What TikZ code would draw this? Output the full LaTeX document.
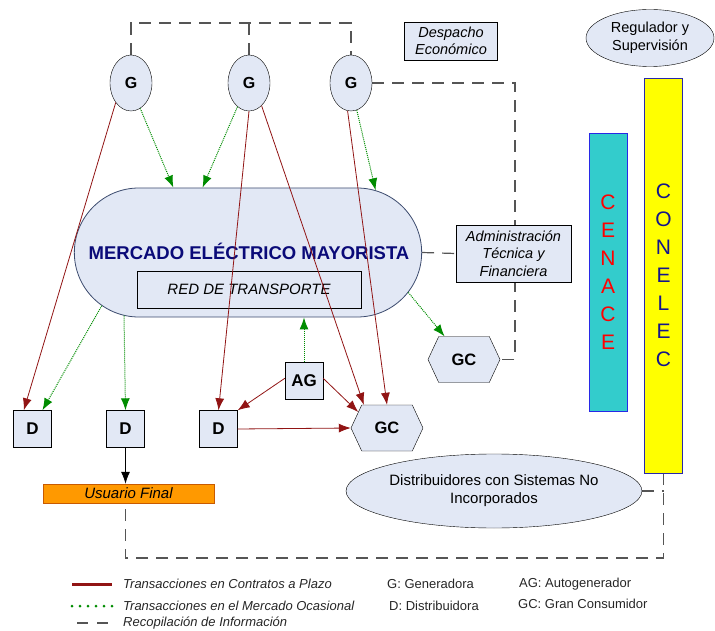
\documentclass[tikz,border=0pt]{standalone}
\usepackage{fontspec}
\setmainfont{Liberation Sans}
\usepackage{tikz}
\usetikzlibrary{shapes,arrows.meta,backgrounds}
\definecolor{nodefill}{RGB}{226,232,245}
\definecolor{pillline}{RGB}{60,75,110}
\definecolor{mercadoblue}{RGB}{10,10,120}
\definecolor{contratored}{RGB}{145,20,20}
\definecolor{ocasionalgreen}{RGB}{0,140,0}
\definecolor{recopgray}{RGB}{85,85,85}
\definecolor{cenacefill}{RGB}{51,204,204}
\definecolor{cenaceline}{RGB}{40,40,230}
\definecolor{conelecfill}{RGB}{255,255,0}
\definecolor{conelecline}{RGB}{40,40,170}
\definecolor{conelectext}{RGB}{20,20,140}
\definecolor{userfill}{RGB}{255,153,0}
\definecolor{userline}{RGB}{200,90,0}
\tikzset{
	gen/.style       = {draw, ellipse, fill = nodefill, minimum width = 42pt,
		minimum height = 56pt, inner sep = 0pt, font = \fontsize{16}{19}\selectfont\bfseries},
	distr/.style     = {draw, rectangle, fill = nodefill, minimum width = 38pt,
		minimum height = 37pt, inner sep = 0pt, font = \fontsize{17}{20}\selectfont\bfseries},
	cons/.style      = {draw, signal, signal to = east and west, signal pointer angle = 130,
		fill = nodefill, minimum width = 72pt, minimum height = 46pt, inner sep = 0pt,
		font = \fontsize{16.5}{19}\selectfont\bfseries},
	info/.style      = {draw, rectangle, fill = nodefill, align = center, inner sep = 0pt,
		font = \fontsize{14.5}{17.5}\selectfont\itshape},
	cloud/.style     = {draw, ellipse, fill = nodefill, align = center, inner sep = 0pt,
		font = \fontsize{14.5}{17.5}\selectfont},
	pill/.style      = {draw = pillline, thick, rounded rectangle, fill = nodefill,
		minimum width = 354pt, minimum height = 129pt},
	bar/.style       = {draw, thick, rectangle, align = center, inner sep = 0pt,
		minimum width = 38pt, font = \fontsize{21}{28}\selectfont},
	legend/.style    = {anchor = west, inner sep = 0pt, text = black!85,
		font = \fontsize{13}{15}\selectfont},
	contrato/.style  = {->, draw = contratored, line width = 0.8pt},
	ocasional/.style = {->, draw = ocasionalgreen, densely dotted, line width = 1pt},
	recop/.style     = {draw = recopgray, dash pattern = on 12pt off 8pt, line width = 1.2pt}
}

\begin{document}
\begin{tikzpicture}[x=1pt, y=-1pt, >={Latex[length=12pt,width=9pt]}]
	\useasboundingbox (0,0) rectangle (715,631);
	
	\draw
	node at (131,83) [gen] (g1) {G}
	node at (249,83) [gen] (g2) {G}
	node at (351,83) [gen] (g3) {G}
	node at (451,41) [info, minimum width = 93pt, minimum height = 38pt] (desp) {Despacho\\Económico}
	node at (650,38) [cloud, minimum width = 128pt, minimum height = 57pt] (reg) {Regulador y\\Supervisión}
	node at (248,252.5) [pill] (mem) {}
	node at (249,251) [font = \fontsize{18.5}{21}\selectfont\bfseries, text = mercadoblue] (mtxt) {MERCADO ELÉCTRICO MAYORISTA}
	node at (249,289.5) [info, minimum width = 224pt, minimum height = 37pt, font = \fontsize{15}{18}\selectfont\itshape] (red) {RED DE TRANSPORTE}
	node at (513.5,253.5) [info, minimum width = 115pt, minimum height = 57pt] (admin) {Administración\\Técnica y\\Financiera}
	node at (608,272) [bar, fill = cenacefill, draw = cenaceline, minimum height = 278pt, text = red] (cenace) {C\\E\\N\\A\\C\\E}
	node at (663.5,275.5) [bar, fill = conelecfill, draw = conelecline, minimum height = 395pt, text = conelectext] (conelec) {C\\O\\N\\E\\L\\E\\C}
	node at (464,359.5) [cons] (gc1) {GC}
	node at (304,381) [distr] (ag) {AG}
	node at (32.5,429) [distr] (d1) {D}
	node at (125.5,429) [distr] (d2) {D}
	node at (218.5,429) [distr] (d3) {D}
	node at (387,428) [cons] (gc2) {GC}
	node at (128.5,493.5) [rectangle, draw = userline, fill = userfill, minimum width = 171pt, minimum height = 19pt, inner sep = 0pt, font = \fontsize{15}{18}\selectfont\itshape] (uf) {Usuario Final}
	node at (494,491) [cloud, minimum width = 272pt, minimum height = 74pt, font = \fontsize{15}{18}\selectfont] (dist) {Distribuidores con Sistemas No\\Incorporados};
	
	\coordinate (top) at (249,23);
	\coordinate (rb) at (515,359.5);
	\coordinate (loop) at (125.5,558);
	
	\begin{scope}[on background layer]
		\draw[recop] (g1.north) |- (top) -| (g3.north);
		\draw[recop] (g2.north) -- (top);
		\draw[recop] (g3.east) -| (rb) -- (gc1.east);
		\draw[recop] (mem.east) -- (admin.west);
		\draw[recop] (dist.east) -- (dist.east -| conelec.south);
		\draw[recop] (conelec.south) |- (loop) -- (d2.south |- uf.south);
	\end{scope}
	
	\draw[contrato](g1.232) -- (d1.115);
	\draw[contrato](g2.south) -- (d3.north);
	\draw[contrato](g2.299) -- (gc2.135);
	\draw[contrato](g3.263) -- (gc2.north);
	\draw[contrato](ag.172) -- (d3.north east);
	\draw[contrato](ag.8) -- (gc2.151);
	\draw[contrato](d3.east) -- (gc2.west);
	
	\draw[ocasional](g1.290) -- (mem.139);
	\draw[ocasional](g2.244) -- (mem.125);
	\draw[ocasional](g3.282) -- (mem.26);
	\draw[ocasional](mem.200) -- (d1.62);
	\draw[ocasional](mem.207) -- (d2.north);
	\draw[ocasional](ag.north) -- (ag.north |- mem.south);
	\draw[ocasional](mem.346) -- (gc1.130);
	
	\draw[->, thick](d2.south) -- (d2.south |- uf.north);
	
	% leyenda
	\coordinate (la1) at (72,584);  \coordinate (la2) at (112,584);
	\coordinate (lb1) at (72,606);  \coordinate (lb2) at (112,606);
	\coordinate (lc1) at (77,623);  \coordinate (lc2) at (108,623);
	\draw[contratored, line width = 3pt](la1) -- (la2);
	\draw[ocasionalgreen, line width = 3pt, line cap = round, dash pattern = on 0pt off 8pt](lb1) -- (lb2);
	\draw[recopgray, line width = 1.2pt, dash pattern = on 11pt off 9pt](lc1) -- (lc2);
	\draw
	node at (123,584) [legend, font = \fontsize{13}{15}\selectfont\itshape] (lt1) {Transacciones en Contratos a Plazo}
	node at (123,606) [legend, font = \fontsize{13}{15}\selectfont\itshape] (lt2) {Transacciones en el Mercado Ocasional}
	node at (123,623) [legend, font = \fontsize{13}{15}\selectfont\itshape] (lt3) {Recopilación de Información}
	node at (387,584) [legend] (lg) {G: Generadora}
	node at (389,606) [legend] (ld) {D: Distribuidora}
	node at (519,584) [legend] (lag) {AG: Autogenerador}
	node at (518,604) [legend] (lgc) {GC: Gran Consumidor};
	
\end{tikzpicture}
\end{document}
